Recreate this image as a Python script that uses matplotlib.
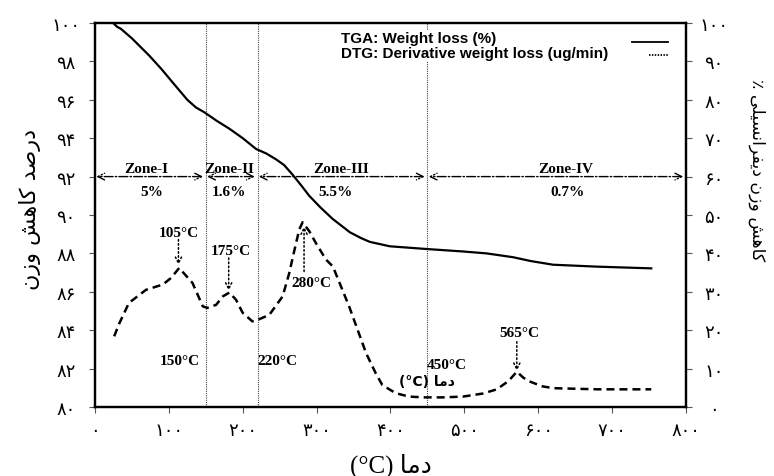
import matplotlib
matplotlib.use("Agg")
import matplotlib.pyplot as plt

plt.rcParams['font.family'] = ['DejaVu Sans']

# TGA curve (left axis, weight %)
tga_temp = [26, 30, 35, 50, 73.5, 90, 109.6, 125, 136.7, 148, 165, 181.7, 200, 218, 232, 245,
            256, 267.5, 280, 290, 305, 321.6, 335, 345, 360, 372, 399, 448, 498, 530, 566, 590,
            620, 679, 753]
tga_weight = [99.95, 99.8, 99.7, 99.2, 98.3, 97.6, 96.7, 96.0, 95.6, 95.35, 94.9, 94.5, 94.0, 93.44,
              93.2, 92.9, 92.6, 92.1, 91.5, 91.0, 90.4, 89.8, 89.4, 89.1, 88.8, 88.6, 88.37, 88.23,
              88.1, 88.0, 87.8, 87.6, 87.41, 87.31, 87.22]

# DTG curve (right axis)
dtg_temp = [26, 33, 46, 69, 92, 103, 114, 132, 146, 152, 164, 173, 182, 191, 200, 213, 218, 236,
            254, 263, 268, 276.5, 281, 290, 299, 312.6, 322, 333, 344, 355.5, 367, 380, 389, 407,
            425, 446, 470, 498, 525, 544, 560, 571, 580, 589, 605, 620, 680, 753]
dtg_value = [18.4, 21.8, 27.1, 30.5, 31.9, 33.6, 36.2, 32.3, 26.2, 25.8, 26.6, 28.8, 29.8, 27.9,
             24.5, 22.3, 22.5, 24.0, 28.8, 34.9, 39.2, 46.2, 48.1, 45.8, 42.7, 38.4, 36.6, 31.4,
             26.2, 20.1, 14.0, 8.8, 5.7, 3.6, 2.7, 2.5, 2.5, 2.7, 3.5, 4.6, 6.8, 9.2, 7.6, 6.6,
             5.4, 4.9, 4.6, 4.6]

zone_bounds = [0, 150, 220, 450, 800]
zone_names = ['Zone-I', 'Zone-II', 'Zone-III', 'Zone-IV']
zone_loss = ['5%', '1.6%', '5.5%', '0.7%']
zone_name_x = [70, 181, 333, 637]
zone_loss_x = [77, 181, 326, 640]

# peak labels: text, text position, arrow start, arrow end (right axis units)
peaks = [('105°C', 113, 45.5, 113, 43.6, 113, 37.0),
         ('175°C', 184, 40.7, 181, 38.8, 181, 30.3),
         ('280°C', 293, 32.5, 283, 35.3, 283, 47.0),
         ('565°C', 574, 19.3, 571, 17.0, 571, 9.4)]
bound_labels = [('150°C', 115, 12.1), ('220°C', 247, 12.1), ('450°C', 476, 11.0)]

legend_text = 'TGA: Weight loss (%)\nDTG: Derivative weight loss (ug/min)'

x_ticks = [0, 100, 200, 300, 400, 500, 600, 700, 800]
x_labels = ['۰', '۱۰۰', '۲۰۰', '۳۰۰', '۴۰۰', '۵۰۰', '۶۰۰', '۷۰۰', '۸۰۰']
yl_ticks = [80, 82, 84, 86, 88, 90, 92, 94, 96, 98, 100]
yl_labels = ['۸۰', '۸۲', '۸۴', '۸۶', '۸۸', '۹۰', '۹۲', '۹۴', '۹۶', '۹۸', '۱۰۰']
yr_ticks = [0, 10, 20, 30, 40, 50, 60, 70, 80, 90, 100]
yr_labels = ['۰', '۱۰', '۲۰', '۳۰', '۴۰', '۵۰', '۶۰', '۷۰', '۸۰', '۹۰', '۱۰۰']

# persian words already shaped, in visual order
w_darsad = '\uFEAA\uFEBB\uFEAD\uFEA9'
w_kahesh = '\uFEB6\uFEEB\uFE8E\uFB90'
w_vazn = '\uFEE5\uFEAF\uFEED'
w_diff = '\uFBFD\uFEE0\uFBFF\uFEB4\uFEE7\uFE8D\uFEAE\uFED4\uFBFE\uFEA9'
w_dama = '\uFE8E\uFEE3\uFEA9'
left_label = w_vazn + ' ' + w_kahesh + ' ' + w_darsad
right_label = '\u066A ' + w_diff + ' ' + w_vazn + ' ' + w_kahesh
x_label = '(°C) ' + w_dama

serif = 'Liberation Serif'

fig = plt.figure(figsize=(7.74, 4.77), dpi=100)
ax = fig.add_axes([0.1227, 0.1447, 0.7636, 0.805])
ax2 = ax.twinx()

ax.set_xlim(0, 800)
ax.set_ylim(80, 100)
ax2.set_ylim(0, 100)

for b in zone_bounds[1:-1]:
    ax.axvline(b, color='#444444', lw=0.8, ls=(0, (1, 1)), zorder=1)

ax.plot(tga_temp, tga_weight, color='black', lw=1.6, zorder=3)
ax2.plot(dtg_temp, dtg_value, color='black', lw=1.8, ls=(0, (3.2, 2.0)), zorder=3)

# zone arrows
for i in range(4):
    ax.annotate('', xy=(zone_bounds[i], 92), xytext=(zone_bounds[i + 1], 92),
                arrowprops=dict(arrowstyle='<->', ls='-.', lw=1.0, color='black',
                                shrinkA=2, shrinkB=1, mutation_scale=12))
    ax.text(zone_name_x[i], 92.43, zone_names[i], family=serif, fontsize=11, fontweight='bold',
            ha='center', va='center')
    ax.text(zone_loss_x[i], 91.24, zone_loss[i], family=serif, fontsize=11, fontweight='bold',
            ha='center', va='center')

for lab, tx, ty, sx, sy, ex, ey in peaks:
    ax2.text(tx, ty, lab, family=serif, fontsize=11, fontweight='bold', ha='center', va='center')
    ax2.annotate('', xy=(ex, ey), xytext=(sx, sy),
                 arrowprops=dict(arrowstyle='->', ls=':', lw=1.1, color='black',
                                 shrinkA=0, shrinkB=0, mutation_scale=11))

for lab, tx, ty in bound_labels:
    ax2.text(tx, ty, lab, family=serif, fontsize=11, fontweight='bold', ha='center', va='center')
ax2.text(449, 6.7, x_label, fontsize=10, fontweight='bold', ha='center', va='center')

# legend drawn by hand
ax.text(0.417, 0.9415, legend_text, transform=ax.transAxes, family='Liberation Sans',
        fontsize=11, fontweight='bold', ha='left', va='center', ma='left', linespacing=1.02,
        zorder=4, bbox=dict(facecolor='white', edgecolor='none', pad=1))
ax.plot([0.908, 0.970], [0.951, 0.951], transform=ax.transAxes, color='black', lw=1.3)
ax.plot([0.937, 0.970], [0.917, 0.917], transform=ax.transAxes, color='black', lw=1.3,
        ls=(0, (0.8, 0.8)))

ax.set_xticks(x_ticks)
ax.set_xticklabels(x_labels, fontsize=13)
ax.set_yticks(yl_ticks)
ax.set_yticklabels(yl_labels, fontsize=13, ha='center')
ax2.set_yticks(yr_ticks)
ax2.set_yticklabels(yr_labels, fontsize=13, ha='center')

ax.tick_params(axis='x', direction='out', length=4, width=0.8, color='#555555', pad=6)
ax.tick_params(axis='y', direction='out', length=4, width=0.8, color='#555555', pad=17)
ax2.tick_params(axis='y', direction='out', length=4, width=0.8, color='#555555', pad=16)

for a in (ax, ax2):
    for s in a.spines.values():
        s.set_linewidth(1.6)

fig.text(30 / 774, 1 - 210 / 477, left_label, rotation=90, fontsize=16, ha='center', va='center')
fig.text(757 / 774, 1 - 170 / 477, right_label, rotation=-90, fontsize=12.5, ha='center', va='center')
fig.text(391 / 774, 1 - 466 / 477, x_label, family=['Liberation Serif', 'DejaVu Sans'],
         fontsize=18, ha='center', va='center')

fig.savefig('out.png', dpi=100)
